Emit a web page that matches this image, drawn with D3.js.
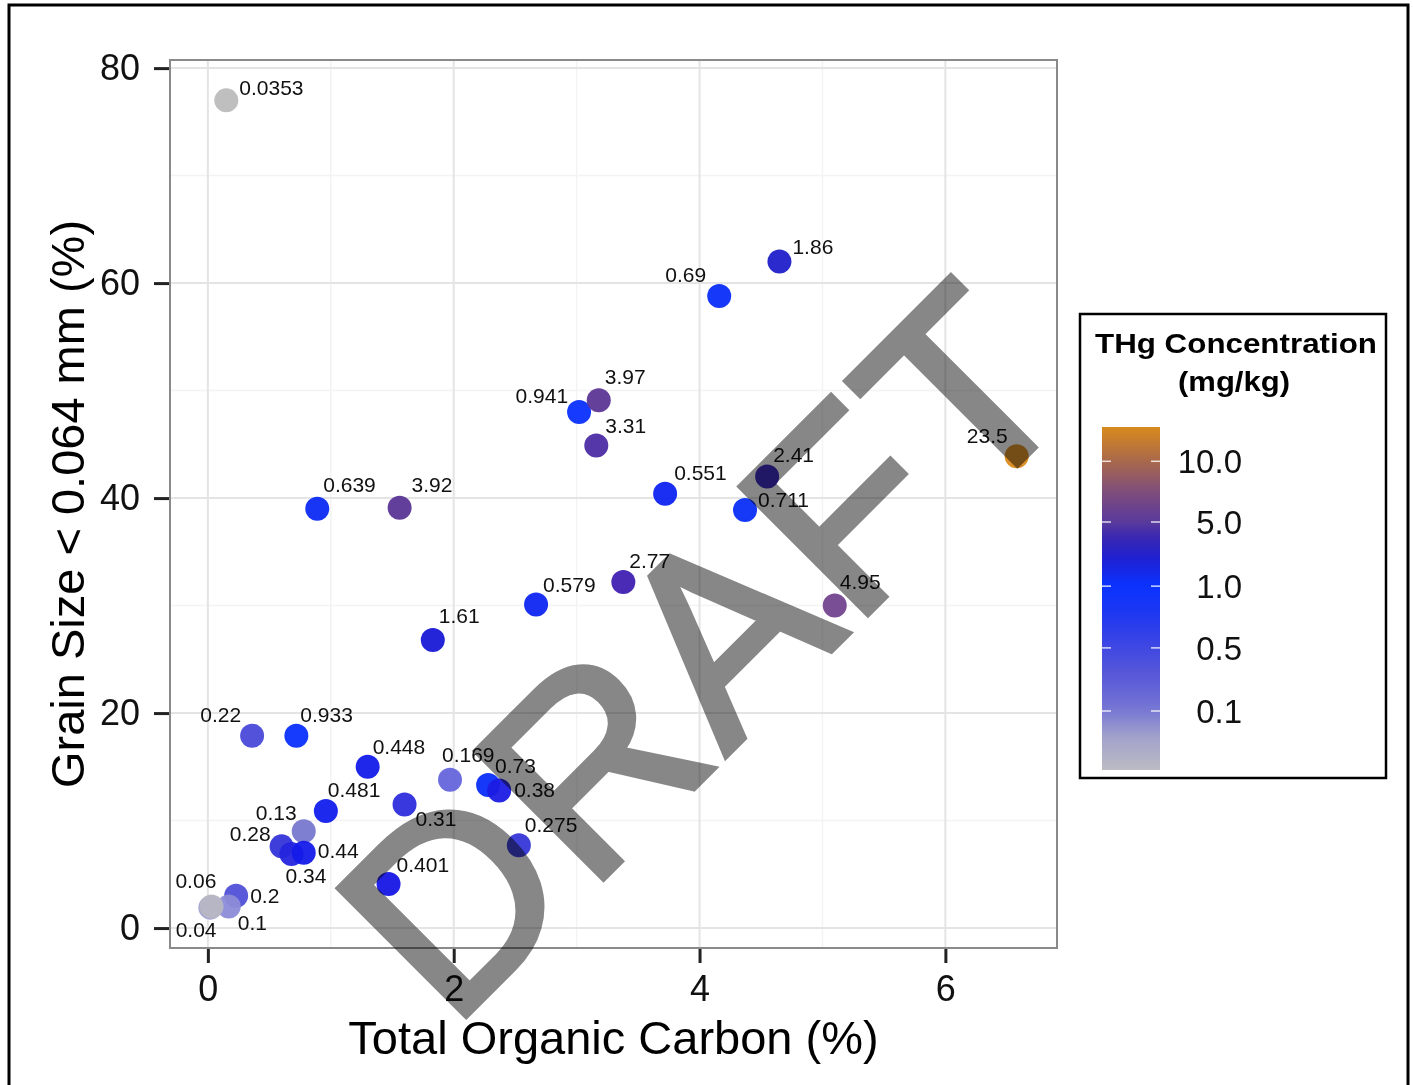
<!DOCTYPE html>
<html>
<head>
<meta charset="utf-8">
<script src="https://cdn.jsdelivr.net/npm/d3@7"></script>
<style>
  body { margin: 0; background: #fff; }
  svg { display: block; font-family: "Liberation Sans", Arial, sans-serif; }
</style>
</head>
<body>
<svg width="1413" height="1085"></svg>
<script>
// Total organic carbon (%), grain size < 0.064 mm (%), THg (mg/kg)
var toc = [0.15, 4.65, 4.16, 3.02, 3.18, 3.16, 3.72, 4.55, 4.37, 6.58, 5.10,
  0.89, 1.56, 1.83, 2.67, 3.38, 0.36, 0.72, 1.30, 1.97, 2.28, 2.37, 0.96,
  1.60, 0.78, 0.60, 0.68, 0.78, 2.53, 1.47, 0.23, 0.17, 0.02, 0.03];
var grain = [77.0, 62.0, 58.8, 48.0, 49.1, 44.9, 40.4, 42.0, 38.9, 43.9, 30.0,
  39.0, 39.1, 26.8, 30.1, 32.2, 17.9, 17.9, 15.0, 13.8, 13.3, 12.8, 10.9,
  11.5, 9.0, 7.6, 6.9, 7.0, 7.7, 4.1, 3.0, 2.0, 1.9, 2.0];
var thg = [0.0353, 1.86, 0.69, 0.941, 3.97, 3.31, 0.551, 2.41, 0.711, 23.5, 4.95,
  0.639, 3.92, 1.61, 0.579, 2.77, 0.22, 0.933, 0.448, 0.169, 0.73, 0.38, 0.481,
  0.31, 0.13, 0.28, 0.34, 0.44, 0.275, 0.401, 0.2, 0.1, 0.06, 0.04];

var xTicks = [0, 2, 4, 6];
var yTicks = [0, 20, 40, 60, 80];
var legendBreaks = [0.1, 0.5, 1, 5, 10];

// label placement next to each point: anchor, dx, baseline dy
var labelPlace = [
  ["start", 13, -5], ["start", 13, -8], ["end", -13, -14], ["end", -11, -9],
  ["start", 6, -16], ["start", 9, -12], ["start", 9, -14], ["start", 6, -15],
  ["start", 13, -3], ["end", -9, -13], ["start", 5, -17], ["start", 6, -17],
  ["start", 12, -16], ["start", 6, -17], ["start", 7, -13], ["start", 6, -14],
  ["end", -11, -14], ["start", 4, -14], ["start", 5, -13], ["start", -8, -18],
  ["start", 7, -12], ["start", 15, 7], ["start", 2, -14], ["start", 11, 22],
  ["end", -7, -11], ["end", -11, -5], ["start", -6, 29], ["start", 14, 5],
  ["start", 6, -13], ["start", 8, -12], ["start", 14, 7], ["start", 9, 23],
  ["end", 6, -20], ["end", 5, 30]
];

var points = toc.map(function(d, i) {
  return {x: d, y: grain[i], v: thg[i], place: labelPlace[i]};
});

var svg = d3.select("svg"),
  panel = {left: 170, top: 60, width: 887, height: 888};

// ggplot-like 5% expansion
function expand(ext) {
  var pad = (ext[1] - ext[0]) * 0.05;
  return [ext[0] - pad, ext[1] + pad];
}

var x = d3.scaleLinear()
  .domain(expand(d3.extent(toc)))
  .range([panel.left, panel.left + panel.width]);
var y = d3.scaleLinear()
  .domain(expand(d3.extent(grain)))
  .range([panel.top + panel.height, panel.top]);

// point colour by THg value
var colour = d3.scaleLinear()
  .domain([0.0353, 0.05, 0.1, 0.13, 0.17, 0.2, 0.28, 0.4, 0.5, 0.7, 1, 1.6, 1.9, 2.8, 3.3, 3.9, 5, 10, 23.5])
  .range(["#bcbcbc", "#a8a8d2", "#8c8cd8", "#7878d0", "#6464dc", "#5050d8", "#3434d8",
    "#1616e6", "#1020ee", "#0a2ef8", "#0a30ff", "#1818d8", "#2020c8", "#4020b0",
    "#4c2ca4", "#5a3596", "#74468e", "#a8684c", "#d98a1c"])
  .interpolate(d3.interpolateRgb)
  .clamp(true);

// legend bar: position of values along the bar, and the bar's gradient
var vExt = d3.extent(thg);
var barPos = d3.scaleLinear()
  .domain([vExt[0]].concat(legendBreaks, [vExt[1]]))
  .range([0, 0.172, 0.356, 0.536, 0.723, 0.90, 1]);
var barGrad = d3.scaleLinear()
  .domain([0, 0.10, 0.172, 0.27, 0.356, 0.45, 0.536, 0.62, 0.68, 0.723, 0.80, 0.90, 1])
  .range(["#bcbcc4", "#a0a0cc", "#7878d4", "#5a5ad8", "#4048e2", "#2038f0", "#0a32ff",
    "#2020d0", "#3a28b0", "#5a3a9c", "#7a4a80", "#a8684c", "#d98a1c"])
  .interpolate(d3.interpolateRgb);

// outer frame
svg.append("rect")
  .attr("x", 9).attr("y", 5)
  .attr("width", 1399).attr("height", 1100)
  .attr("fill", "none")
  .attr("stroke", "#000")
  .attr("stroke-width", 3);

// panel
svg.append("rect")
  .attr("x", panel.left).attr("y", panel.top)
  .attr("width", panel.width).attr("height", panel.height)
  .attr("fill", "#fff");

var minorX = [1, 3, 5], minorY = [10, 30, 50, 70];

svg.append("g").selectAll("line")
  .data(minorX).enter().append("line")
  .attr("x1", x).attr("x2", x)
  .attr("y1", panel.top).attr("y2", panel.top + panel.height)
  .style("stroke", "#f3f3f3").style("stroke-width", 1.5);
svg.append("g").selectAll("line")
  .data(minorY).enter().append("line")
  .attr("y1", y).attr("y2", y)
  .attr("x1", panel.left).attr("x2", panel.left + panel.width)
  .style("stroke", "#f3f3f3").style("stroke-width", 1.5);
svg.append("g").selectAll("line")
  .data(xTicks).enter().append("line")
  .attr("x1", x).attr("x2", x)
  .attr("y1", panel.top).attr("y2", panel.top + panel.height)
  .style("stroke", "#e4e4e4").style("stroke-width", 2);
svg.append("g").selectAll("line")
  .data(yTicks).enter().append("line")
  .attr("y1", y).attr("y2", y)
  .attr("x1", panel.left).attr("x2", panel.left + panel.width)
  .style("stroke", "#e4e4e4").style("stroke-width", 2);

// axes
var xAxis = svg.append("g")
  .attr("transform", "translate(0," + (panel.top + panel.height) + ")")
  .call(d3.axisBottom(x).tickValues(xTicks).tickSize(15).tickPadding(12).tickFormat(d3.format("d")));
var yAxis = svg.append("g")
  .attr("transform", "translate(" + panel.left + ",0)")
  .call(d3.axisLeft(y).tickValues(yTicks).tickSize(16).tickPadding(14).tickFormat(d3.format("d")));

[xAxis, yAxis].forEach(function(g) {
  g.select(".domain").remove();
  g.selectAll(".tick line").style("stroke", "#222").style("stroke-width", 3);
  g.selectAll(".tick text")
    .style("font-family", "'Liberation Sans', Arial, sans-serif")
    .style("font-size", "36px")
    .style("fill", "#111");
});

svg.append("rect")
  .attr("x", panel.left).attr("y", panel.top)
  .attr("width", panel.width).attr("height", panel.height)
  .attr("fill", "none")
  .style("stroke", "#8a8a8a").style("stroke-width", 2);

// points and labels
svg.append("g").selectAll("circle")
  .data(points).enter().append("circle")
  .attr("cx", function(d) { return x(d.x); })
  .attr("cy", function(d) { return y(d.y); })
  .attr("r", 12)
  .style("fill", function(d) { return colour(d.v); })
  .style("fill-opacity", 0.95);

svg.append("g").selectAll("text")
  .data(points).enter().append("text")
  .attr("x", function(d) { return x(d.x) + d.place[1]; })
  .attr("y", function(d) { return y(d.y) + d.place[2]; })
  .attr("text-anchor", function(d) { return d.place[0]; })
  .style("font-size", "21px")
  .style("fill", "#111")
  .text(function(d) { return String(d.v); });

// axis titles
svg.append("text")
  .attr("x", panel.left + panel.width / 2)
  .attr("y", 1054)
  .attr("text-anchor", "middle")
  .style("font-size", "47px")
  .text("Total Organic Carbon (%)");
svg.append("text")
  .attr("transform", "translate(84," + (panel.top + panel.height / 2) + ") rotate(-90)")
  .attr("text-anchor", "middle")
  .style("font-size", "47px")
  .text("Grain Size < 0.064 mm (%)");

// legend
var leg = {x: 1080, y: 314, w: 306, h: 464, barX: 1102, barY: 427, barW: 58, barH: 343};
svg.append("rect")
  .attr("x", leg.x).attr("y", leg.y)
  .attr("width", leg.w).attr("height", leg.h)
  .attr("fill", "#fff")
  .attr("stroke", "#000").attr("stroke-width", 2.5);
svg.append("text")
  .attr("x", 1095).attr("y", 353)
  .attr("textLength", 282).attr("lengthAdjust", "spacingAndGlyphs")
  .style("font-size", "27px").style("font-weight", "bold")
  .text("THg Concentration");
svg.append("text")
  .attr("x", 1178).attr("y", 391)
  .attr("textLength", 112).attr("lengthAdjust", "spacingAndGlyphs")
  .style("font-size", "27px").style("font-weight", "bold")
  .text("(mg/kg)");

var lg = svg.append("defs").append("linearGradient")
  .attr("id", "thgGrad")
  .attr("x1", 0).attr("y1", 1).attr("x2", 0).attr("y2", 0);
lg.selectAll("stop")
  .data(d3.range(0, 1.0001, 0.02)).enter().append("stop")
  .attr("offset", function(d) { return d; })
  .attr("stop-color", function(d) { return barGrad(d); });

svg.append("rect")
  .attr("x", leg.barX).attr("y", leg.barY)
  .attr("width", leg.barW).attr("height", leg.barH)
  .attr("fill", "url(#thgGrad)");

var legY = d3.scaleLinear().domain([0, 1]).range([leg.barY + leg.barH, leg.barY]);
var legTicks = svg.append("g").selectAll("g")
  .data(legendBreaks).enter().append("g")
  .attr("transform", function(d) { return "translate(0," + legY(barPos(d)) + ")"; });
legTicks.append("line")
  .attr("x1", leg.barX).attr("x2", leg.barX + 9)
  .style("stroke", "#fff").style("stroke-width", 1.5).style("stroke-opacity", 0.8);
legTicks.append("line")
  .attr("x1", leg.barX + leg.barW - 9).attr("x2", leg.barX + leg.barW)
  .style("stroke", "#fff").style("stroke-width", 1.5).style("stroke-opacity", 0.8);
legTicks.append("text")
  .attr("x", 1242).attr("dy", "0.36em")
  .attr("text-anchor", "end")
  .style("font-size", "33px")
  .style("fill", "#111")
  .text(d3.format(".1f"));

// watermark
svg.append("text")
  .attr("transform", "translate(451,1031) rotate(-45)")
  .style("font-size", "262px")
  .style("letter-spacing", "5px")
  .style("fill", "#878787")
  .style("stroke", "#878787")
  .style("stroke-width", 6)
  .style("stroke-linejoin", "miter")
  .style("mix-blend-mode", "multiply")
  .text("DRAFT");
</script>
</body>
</html>
